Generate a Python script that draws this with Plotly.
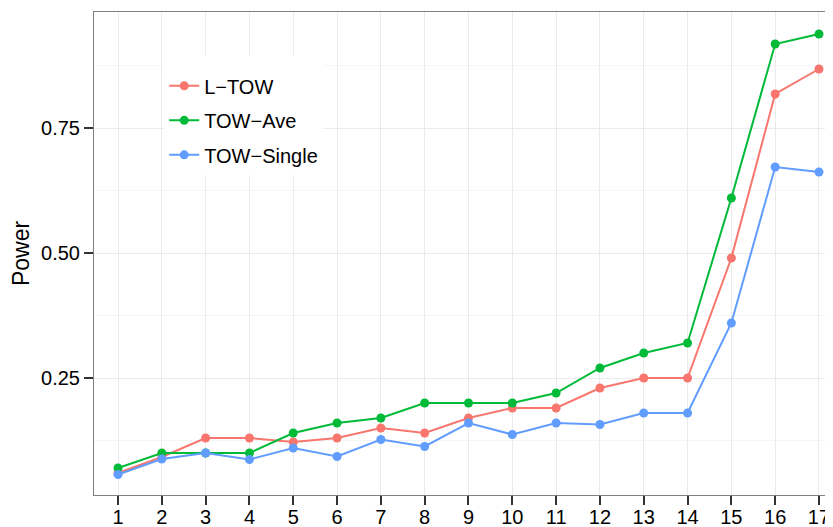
import plotly.graph_objects as go

x_vals = list(range(1, 18))
x_labels = [str(v) for v in x_vals]
l_tow = [0.06, 0.092, 0.13, 0.13, 0.122, 0.13, 0.15, 0.14, 0.17, 0.19, 0.19, 0.23, 0.25, 0.25, 0.49, 0.818, 0.868]
tow_ave = [0.07, 0.10, 0.10, 0.10, 0.14, 0.16, 0.17, 0.20, 0.20, 0.20, 0.22, 0.27, 0.30, 0.32, 0.61, 0.918, 0.938]
tow_single = [0.057, 0.088, 0.10, 0.087, 0.11, 0.093, 0.127, 0.113, 0.16, 0.137, 0.16, 0.157, 0.18, 0.18, 0.36, 0.672, 0.662]
y_ticks = [0.25, 0.50, 0.75]
y_tick_labels = ["0.25", "0.50", "0.75"]

series = [("L\u2212TOW", l_tow, "#F8766D"),
          ("TOW\u2212Ave", tow_ave, "#00BA38"),
          ("TOW\u2212Single", tow_single, "#619CFF")]

fig = go.Figure()
for i, (name, vals, col) in enumerate(series):
    fig.add_trace(go.Scatter(x=x_vals, y=vals, name=name, mode="lines+markers",
                             legendgroup="g%d" % i,
                             line=dict(color=col, width=2),
                             marker=dict(color=col, size=9)))

font_family = "Liberation Sans, Arial, Helvetica, sans-serif"
# page body has an 8px default margin; figure sized/margined to compensate
fig.update_layout(
    width=825, height=519,
    margin=dict(l=86, r=0, t=4, b=32),
    paper_bgcolor="white", plot_bgcolor="white",
    font=dict(family=font_family, size=20, color="black"),
    showlegend=True,
    legend=dict(x=0.095, y=0.909, xanchor="left", yanchor="top",
                bgcolor="white", borderwidth=0,
                font=dict(size=20, color="black"),
                title=dict(text=" ", font=dict(size=8)),
                tracegroupgap=5.5),
    xaxis=dict(range=[0.452, 17.32], tickmode="array", tickvals=x_vals, ticktext=x_labels,
               automargin=False,
               showgrid=True, gridcolor="#EBEBEB", gridwidth=1,
               showline=True, linecolor="#7F7F7F", linewidth=1, mirror=True,
               ticks="outside", ticklen=9, tickcolor="#333333", tickwidth=1.5,
               ticklabelstandoff=-5,
               tickfont=dict(size=20, color="black"), zeroline=False),
    yaxis=dict(range=[0.016, 0.982], tickmode="array", tickvals=y_ticks, ticktext=y_tick_labels,
               automargin=False,
               showgrid=True, gridcolor="#EBEBEB", gridwidth=1,
               minor=dict(dtick=0.125, tick0=0, showgrid=True, gridcolor="#F5F5F5", gridwidth=1),
               showline=True, linecolor="#7F7F7F", linewidth=1,
               ticks="outside", ticklen=9, tickcolor="#333333", tickwidth=1.5,
               tickfont=dict(size=20, color="black"), zeroline=False,
               title=dict(text="Power", font=dict(size=23, color="black"), standoff=8)),
)

fig.write_html("out.html")
